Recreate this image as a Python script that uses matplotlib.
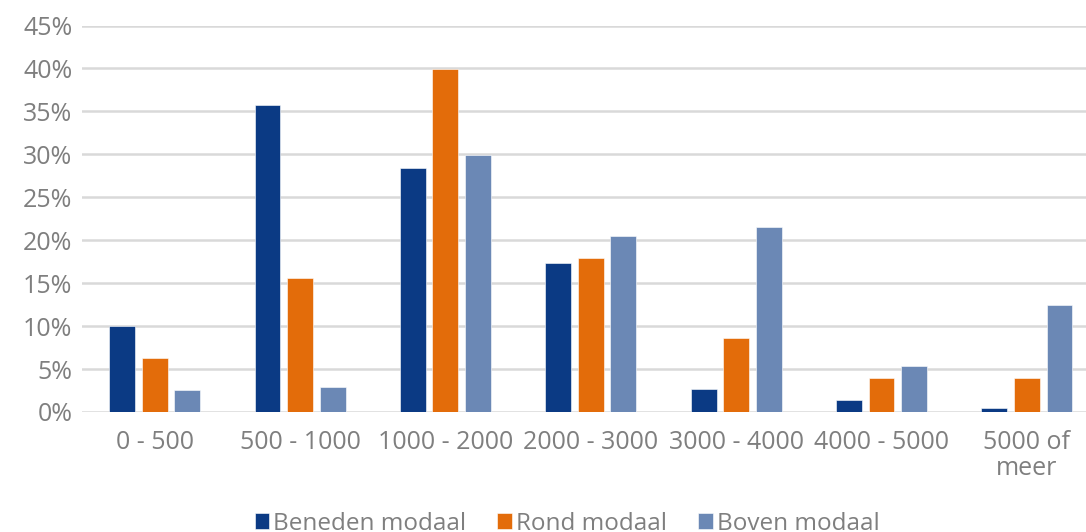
import numpy as np
import matplotlib
matplotlib.use('Agg')
import matplotlib.pyplot as plt
from matplotlib.ticker import PercentFormatter

#%% Data

categories  = ['0 - 500', '500 - 1000', '1000 - 2000', '2000 - 3000',
               '3000 - 4000', '4000 - 5000', '5000 of\nmeer']
series      = ['Beneden modaal', 'Rond modaal', 'Boven modaal']
beneden     = [10.0, 35.7, 28.4, 17.3, 2.7, 1.4, 0.45]
rond        = [6.3, 15.6, 39.9, 17.9, 8.6, 4.0, 4.0]
boven       = [2.6, 2.9, 29.9, 20.5, 21.5, 5.35, 12.4]

colors      = ['#0b3a84', '#e36c0a', '#6b88b5']
text_color  = '#7f7f7f'
grid_color  = '#d9d9d9'

#%% Plot

plt.rcParams['font.family'] = ['Open Sans', 'DejaVu Sans']

fig = plt.figure(figsize=(10.86, 5.32), dpi=100)
ax = fig.add_axes([0.0755, 0.2256, 0.937, 0.7264])

x = np.arange(len(categories))
width = 0.178
step = 0.224
for i, (vals, name) in enumerate(zip([beneden, rond, boven], series)):
    ax.bar(x + (i - 1) * step, vals, width, color=colors[i], label=name,
           edgecolor='white', linewidth=0.4, zorder=3)

ax.set_xlim(-0.5, len(categories) - 0.5)
ax.set_ylim(0, 45)
ax.set_yticks(np.arange(0, 46, 5))
ax.yaxis.set_major_formatter(PercentFormatter(decimals=0))
ax.set_xticks(x)
ax.set_xticklabels(categories, linespacing=1.05)

ax.grid(axis='y', color=grid_color, linewidth=1.8, zorder=0)
for s in ax.spines.values():
    s.set_visible(False)
ax.tick_params(length=0, labelsize=18, labelcolor=text_color)
ax.tick_params(axis='x', pad=13)
ax.tick_params(axis='y', pad=7)

leg = fig.legend(loc='lower center', bbox_to_anchor=(0.522, -0.048), ncol=3,
                 frameon=False, fontsize=17.5, handlelength=0.6, handleheight=0.6,
                 handletextpad=0.15, columnspacing=1.3)
for t in leg.get_texts():
    t.set_color(text_color)

plt.savefig('out.png', dpi=100)
